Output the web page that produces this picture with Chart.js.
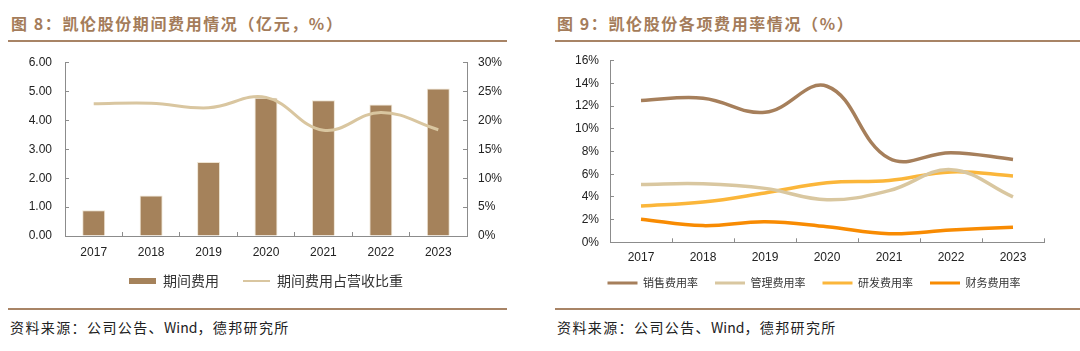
<!DOCTYPE html>
<html>
<head>
<meta charset="utf-8">
<script src="https://cdn.jsdelivr.net/npm/chart.js@4.4.0/dist/chart.umd.min.js"></script>
<style>
  body { margin: 0; width: 1080px; height: 351px; background: #fff; position: relative; overflow: hidden; font-family: "Noto Sans CJK SC", sans-serif; }
  .title { position: absolute; top: 13px; font-size: 16px; line-height: 20px; font-weight: bold; letter-spacing: 1.6px; color: #a47c5a; white-space: nowrap; }
  .rule { position: absolute; height: 2px; background: #a88466; }
  .src { position: absolute; top: 318px; font-size: 14px; line-height: 18px; letter-spacing: 1.4px; color: #222; white-space: nowrap; }
  .src span { letter-spacing: 0; }
  canvas { position: absolute; top: 50px; }
</style>
</head>
<body>
<div class="title" style="left:11px">图 8：凯伦股份期间费用情况（亿元，%）</div>
<div class="title" style="left:557px">图 9：凯伦股份各项费用率情况（%）</div>
<div class="rule" style="left:8px;width:499px;top:40px"></div>
<div class="rule" style="left:555px;width:525px;top:40px"></div>
<div class="rule" style="left:8px;width:499px;top:308px"></div>
<div class="rule" style="left:555px;width:525px;top:308px"></div>
<div class="src" style="left:10px">资料来源：公司公告、<span>Wind</span>，德邦研究所</div>
<div class="src" style="left:557px">资料来源：公司公告、<span>Wind</span>，德邦研究所</div>
<canvas id="c1" width="540" height="251" style="left:0"></canvas>
<canvas id="c2" width="540" height="247" style="left:540px"></canvas>
<script>
const years = ['2017', '2018', '2019', '2020', '2021', '2022', '2023'];
// 图8
const periodExpense = [0.89, 1.40, 2.56, 4.79, 4.70, 4.55, 5.11];      // 亿元
const periodExpenseRatio = [22.9, 23.0, 22.2, 24.0, 18.3, 21.4, 18.4];  // %
// 图9
const sellingRate = [12.5, 12.7, 11.45, 13.75, 7.4, 7.9, 7.3];
const adminRate = [5.1, 5.15, 4.75, 3.75, 4.55, 6.4, 4.0];
const rdRate = [3.2, 3.55, 4.35, 5.25, 5.45, 6.2, 5.85];
const financeRate = [2.03, 1.47, 1.82, 1.38, 0.76, 1.08, 1.32];

Chart.defaults.font.family = '"Liberation Sans", Arial, sans-serif';
Chart.defaults.font.size = 12;
Chart.defaults.color = '#222';
Chart.defaults.animation = false;

const axisColor = '#8c8c8c';
const gridOpts = { drawOnChartArea: false, tickLength: -4, color: axisColor };
const borderOpts = { color: axisColor, width: 1 };
const legendFont = { family: '"Noto Sans CJK SC", sans-serif', size: 14 };

// fixed axis sizes so the plot area lands where the original has it
const fixW = w => s => { s.width = w; s.paddingTop = 0; s.paddingBottom = 0; };
const fixH = h => s => { s.height = h; s.paddingLeft = 0; s.paddingRight = 0; };

// fixed legend height, then move the row: centre at y, shifted sideways by dx
const legendAt = (height, centerY, dx) => ({
  id: 'legendAt',
  beforeLayout(chart) {
    const lg = chart.legend;
    if (!lg || lg._fixed) return;
    const fit = lg.fit;
    lg.fit = function () { fit.call(this); this.height = height; };
    lg._fixed = true;
  },
  afterLayout(chart) {
    const lg = chart.legend;
    const labels = lg.options.labels;
    lg.top = centerY - labels.padding - labels.font.size / 2;
    lg.bottom = lg.top + height;
    lg.left += dx;
    lg.right += dx;
  }
});

function legendItems(lineWidth) {
  return chart => {
    const items = Chart.defaults.plugins.legend.labels.generateLabels(chart);
    items.forEach(it => {
      const ds = chart.data.datasets[it.datasetIndex];
      if (ds.type === 'bar') {
        it.pointStyle = 'rect';
        it.lineWidth = 0;
      } else {
        it.pointStyle = 'line';
        it.lineWidth = lineWidth;
        it.strokeStyle = ds.borderColor;
      }
    });
    return items;
  };
}

new Chart(document.getElementById('c1'), {
  type: 'bar',
  data: {
    labels: years,
    datasets: [
      {
        type: 'line', label: '期间费用占营收比重', data: periodExpenseRatio, yAxisID: 'y1',
        borderColor: '#d9c6a0', borderWidth: 3, pointRadius: 0, tension: 0.4
      },
      {
        type: 'bar', label: '期间费用', data: periodExpense, yAxisID: 'y',
        backgroundColor: '#a5825b', borderColor: '#eee4d2', borderWidth: 1,
        categoryPercentage: 1, barPercentage: 0.4
      }
    ]
  },
  options: {
    responsive: false,
    layout: { padding: { top: 12.7, left: 0, right: 0, bottom: 0 } },
    plugins: {
      tooltip: { enabled: false },
      legend: {
        position: 'bottom',
        reverse: true,
        labels: {
          usePointStyle: true, pointStyleWidth: 27, boxHeight: 6,
          padding: 24, font: legendFont, color: '#333',
          generateLabels: legendItems(2)
        }
      }
    },
    scales: {
      x: {
        grid: { ...gridOpts, offset: true },
        border: borderOpts,
        ticks: { padding: 13 },
        afterFit: fixH(25)
      },
      y: {
        position: 'left', min: 0, max: 6,
        grid: gridOpts, border: borderOpts,
        ticks: { stepSize: 1, padding: 17, callback: v => v.toFixed(2) },
        afterFit: fixW(65)
      },
      y1: {
        position: 'right', min: 0, max: 30,
        grid: gridOpts, border: borderOpts,
        ticks: { stepSize: 5, padding: 15, callback: v => v + '%' },
        afterFit: fixW(73)
      }
    }
  },
  plugins: [legendAt(40, 231, -4)]
});

const lineSeries = [
  { label: '销售费用率', data: sellingRate, color: '#a67f5b' },
  { label: '管理费用率', data: adminRate, color: '#d9c7a0' },
  { label: '研发费用率', data: rdRate, color: '#fbb63a' },
  { label: '财务费用率', data: financeRate, color: '#f88b02' }
];

new Chart(document.getElementById('c2'), {
  type: 'line',
  data: {
    labels: years,
    datasets: lineSeries.map(s => ({
      type: 'line', label: s.label, data: s.data,
      borderColor: s.color, backgroundColor: s.color,
      borderWidth: 3.5, pointRadius: 0, tension: 0.4
    }))
  },
  options: {
    responsive: false,
    layout: { padding: { top: 10.7, left: 0, right: 36, bottom: 0.7 } },
    plugins: {
      tooltip: { enabled: false },
      legend: {
        position: 'bottom',
        labels: {
          usePointStyle: true, pointStyleWidth: 30, boxHeight: 4,
          padding: 17, font: { ...legendFont, size: 11 }, color: '#333',
          generateLabels: legendItems(3)
        }
      }
    },
    scales: {
      x: {
        offset: true,
        grid: { ...gridOpts, offset: true },
        border: borderOpts,
        ticks: { padding: 11.7 },
        afterFit: fixH(24)
      },
      y: {
        min: 0, max: 16,
        grid: gridOpts, border: borderOpts,
        ticks: { stepSize: 2, padding: 15, callback: v => v + '%' },
        afterFit: fixW(70)
      }
    }
  },
  plugins: [legendAt(30, 233, 22)]
});
</script>
</body>
</html>
